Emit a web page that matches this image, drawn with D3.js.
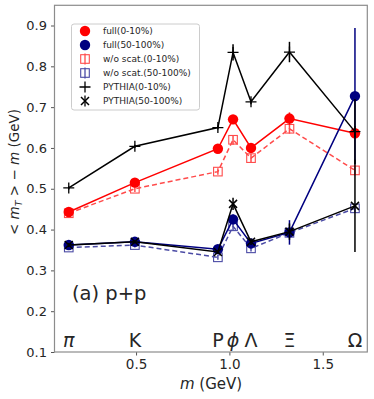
<!DOCTYPE html>
<html>
<head>
<meta charset="utf-8">
<script src="https://cdn.jsdelivr.net/npm/d3@7"></script>
<style>
body { margin: 0; background: #fff; }
text { font-family: "DejaVu Sans", sans-serif; fill: #262626; }
</style>
</head>
<body>
<script>
// masas de las particulas (GeV) y sus etiquetas
var masses = [0.1396, 0.4937, 0.9383, 1.0195, 1.1157, 1.3217, 1.6725];
var particles = ["π", "K", "P", "ϕ", "Λ", "Ξ", "Ω"];

// <mT> - m para cada serie, con su error
var full010 = [0.443, 0.515, 0.598, 0.670, 0.600, 0.672, 0.636];
var full010Err = [0.006, 0.005, 0.006, 0.010, 0.008, 0.015, 0.010];
var full50 = [0.362, 0.370, 0.352, 0.425, 0.366, 0.393, 0.727];
var full50Err = [0.005, 0.005, 0.006, 0.012, 0.008, 0.030, 0.167];
var wo010 = [0.440, 0.500, 0.542, 0.620, 0.575, 0.647, 0.545];
var wo010Err = [0.008, 0.008, 0.008, 0.012, 0.010, 0.012, 0.012];
var wo50 = [0.356, 0.362, 0.332, 0.408, 0.354, 0.392, 0.452];
var wo50Err = [0.006, 0.006, 0.006, 0.010, 0.008, 0.010, 0.010];
var py010 = [0.502, 0.604, 0.650, 0.834, 0.713, 0.835, 0.640];
var py010Err = [0.004, 0.004, 0.005, 0.020, 0.006, 0.025, 0.080];
var py50 = [0.362, 0.370, 0.345, 0.463, 0.370, 0.395, 0.458];
var py50Err = [0.005, 0.004, 0.005, 0.015, 0.008, 0.020, 0.113];

var xTicks = [0.5, 1.0, 1.5];
var yTicks = [0.1, 0.2, 0.3, 0.4, 0.5, 0.6, 0.7, 0.8, 0.9];

var W = 374, H = 399;
var svg = d3.select("body").append("svg").attr("width", W).attr("height", H);

var x = d3.scaleLinear().domain([0.0632, 1.7386]).range([54.5, 367.3]);
var y = d3.scaleLinear().domain([0.1, 0.9495]).range([352, 5.3]);

// ejes
svg.append("g").attr("transform", "translate(0,352)")
  .call(d3.axisBottom(x).tickValues(xTicks).tickFormat(d3.format(".1f")).tickSize(3.5).tickPadding(4))
  .call(function(g) {
    g.select(".domain").remove();
    g.selectAll("line").attr("stroke", "#555");
    g.selectAll("text").style("font-size", "13.5px").attr("fill", "#262626");
  });
svg.append("g").attr("transform", "translate(54.5,0)")
  .call(d3.axisLeft(y).tickValues(yTicks).tickFormat(d3.format(".1f")).tickSize(3.5).tickPadding(4))
  .call(function(g) {
    g.select(".domain").remove();
    g.selectAll("line").attr("stroke", "#555");
    g.selectAll("text").style("font-size", "13px").attr("fill", "#262626");
  });

svg.append("rect").attr("x", 54.5).attr("y", 5.3)
  .attr("width", 367.3 - 54.5).attr("height", 352 - 5.3)
  .attr("fill", "none").attr("stroke", "#8c8c8c").attr("stroke-width", 1.2);

var plot = svg.append("g");

function serie(vals, errs, color, dash, opacity) {
  var pts = masses.map(function(m, i) { return { m: m, v: vals[i], e: errs[i] }; });
  var g = plot.append("g").attr("opacity", opacity);
  g.selectAll("line.err").data(pts).enter().append("line")
    .attr("x1", function(d) { return x(d.m); })
    .attr("x2", function(d) { return x(d.m); })
    .attr("y1", function(d) { return y(d.v - d.e); })
    .attr("y2", function(d) { return y(d.v + d.e); })
    .attr("stroke", color).attr("stroke-width", 1.5);
  g.append("path").datum(pts)
    .attr("d", d3.line().x(function(d) { return x(d.m); }).y(function(d) { return y(d.v); }))
    .attr("fill", "none").attr("stroke", color).attr("stroke-width", 1.5)
    .attr("stroke-dasharray", dash);
  return { g: g, pts: pts };
}

function marker(g, kind, cx, cy, color) {
  if (kind == "circle") {
    g.append("circle").attr("cx", cx).attr("cy", cy).attr("r", 5.2).attr("fill", color);
  } else if (kind == "square") {
    g.append("rect").attr("x", cx - 4.3).attr("y", cy - 4.3).attr("width", 8.6).attr("height", 8.6)
      .attr("fill", "none").attr("stroke", color).attr("stroke-width", 1.1);
  } else if (kind == "plus") {
    g.append("path").attr("d", "M" + (cx - 5.5) + "," + cy + "h11M" + cx + "," + (cy - 5.5) + "v11")
      .attr("stroke", color).attr("stroke-width", 1.3);
  } else if (kind == "x") {
    g.append("path").attr("d", "M" + (cx - 4) + "," + (cy - 4) + "l8,8M" + (cx - 4) + "," + (cy + 4) + "l8,-8")
      .attr("stroke", color).attr("stroke-width", 1.5);
  }
}

var series = [
  { vals: wo010, errs: wo010Err, color: "#ff0000", dash: "5,3", op: 0.7, kind: "square", name: "w/o scat.(0-10%)" },
  { vals: full010, errs: full010Err, color: "#ff0000", dash: null, op: 1, kind: "circle", name: "full(0-10%)" },
  { vals: wo50, errs: wo50Err, color: "#000080", dash: "5,3", op: 0.7, kind: "square", name: "w/o scat.(50-100%)" },
  { vals: full50, errs: full50Err, color: "#000080", dash: null, op: 1, kind: "circle", name: "full(50-100%)" },
  { vals: py010, errs: py010Err, color: "#000000", dash: null, op: 1, kind: "plus", name: "PYTHIA(0-10%)" },
  { vals: py50, errs: py50Err, color: "#000000", dash: null, op: 1, kind: "x", name: "PYTHIA(50-100%)" }
];

series.forEach(function(s) {
  var r = serie(s.vals, s.errs, s.color, s.dash, s.op);
  r.pts.forEach(function(d) { marker(r.g, s.kind, x(d.m), y(d.v), s.color); });
});

// etiquetas de particulas
svg.selectAll("text.part").data(particles).enter().append("text")
  .attr("class", "part")
  .attr("x", function(d, i) { return x(masses[i]); })
  .attr("y", 347)
  .attr("text-anchor", "middle")
  .style("font-size", "19px")
  .style("font-style", function(d) { return (d == "π" || d == "ϕ") ? "italic" : "normal"; })
  .text(function(d) { return d; });

svg.append("text").attr("x", 72).attr("y", 300).style("font-size", "19.5px").text("(a) p+p");

// leyenda
var leg = svg.append("g");
leg.append("rect").attr("x", 71.5).attr("y", 24).attr("width", 128).attr("height", 86)
  .attr("rx", 2.5).attr("fill", "#fff").attr("fill-opacity", 0.85)
  .attr("stroke", "#cccccc").attr("stroke-width", 1);
var legOrder = [1, 3, 0, 2, 4, 5];
legOrder.forEach(function(k, i) {
  var s = series[k];
  var ly = 31 + i * 14;
  var g = leg.append("g").attr("opacity", s.op);
  if (s.kind == "square" || s.kind == "x") {
    g.append("line").attr("x1", 85).attr("x2", 85).attr("y1", ly - 5.5).attr("y2", ly + 5.5)
      .attr("stroke", s.color).attr("stroke-width", 1.3);
  }
  marker(g, s.kind, 85, ly, s.color);
  leg.append("text").attr("x", 103).attr("y", ly + 3.3).style("font-size", "9px").text(s.name);
});

// titulos de los ejes
var xl = svg.append("text").attr("x", 211).attr("y", 389).attr("text-anchor", "middle").style("font-size", "15px");
xl.append("tspan").style("font-style", "italic").text("m");
xl.append("tspan").text(" (GeV)");

var yl = svg.append("text").attr("transform", "translate(19,172) rotate(-90)")
  .attr("text-anchor", "middle").style("font-size", "13.5px");
yl.append("tspan").text("< ");
yl.append("tspan").style("font-style", "italic").text("m");
yl.append("tspan").style("font-style", "italic").style("font-size", "9.5px").attr("dy", 3).text("T");
yl.append("tspan").attr("dy", -3).text(" > − ");
yl.append("tspan").style("font-style", "italic").text("m");
yl.append("tspan").text(" (GeV)");
</script>
</body>
</html>
